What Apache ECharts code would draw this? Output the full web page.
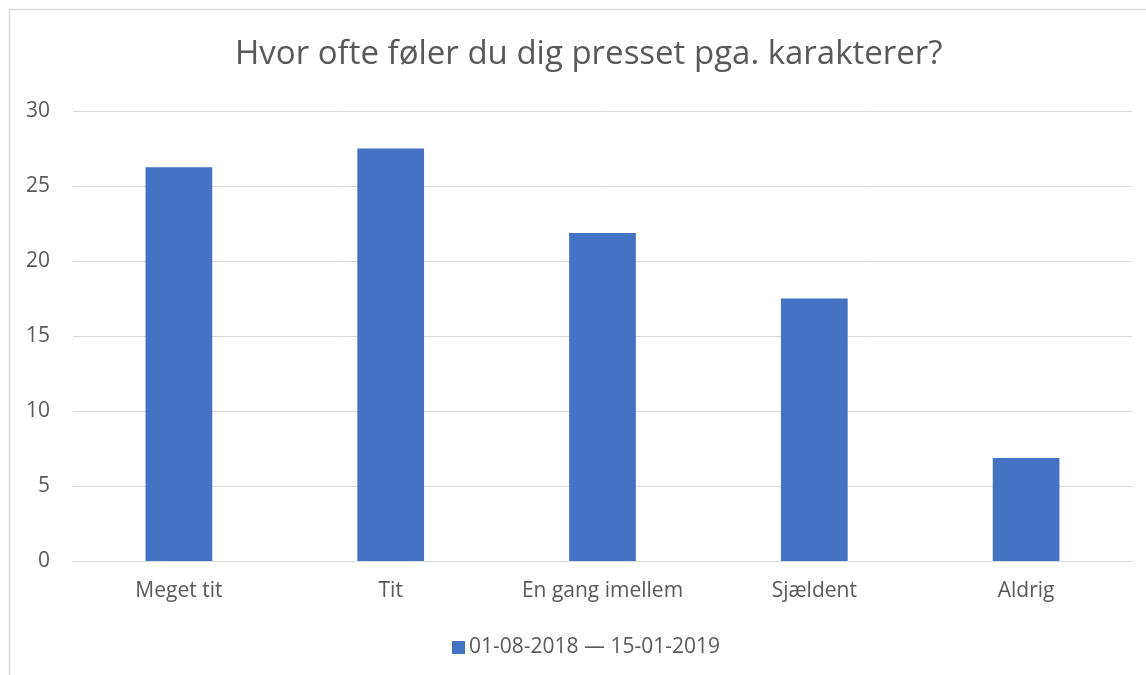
<!DOCTYPE html>
<html>
<head>
<meta charset="utf-8">
<script src="https://cdn.jsdelivr.net/npm/echarts@6/dist/echarts.min.js"></script>
<style>
  html, body { margin: 0; padding: 0; background: #ffffff; }
  #chart { width: 1146px; height: 675px; }
</style>
</head>
<body>
<div id="chart"></div>
<script>
// Survey answers: share of respondents per frequency option
const titleText = 'Hvor ofte føler du dig presset pga. karakterer?';
const categories = ['Meget tit', 'Tit', 'En gang imellem', 'Sjældent', 'Aldrig'];
const seriesName = '01-08-2018 — 15-01-2019';
const values = [26.25, 27.5, 21.875, 17.5, 6.875];
const yTicks = [0, 5, 10, 15, 20, 25, 30];

const textColor = '#595959';
const fontFamily = '"Open Sans", sans-serif';

const chart = echarts.init(document.getElementById('chart'), null, { renderer: 'canvas' });
chart.setOption({
  backgroundColor: '#ffffff',
  animation: false,
  textStyle: { fontFamily: fontFamily },
  graphic: [{
    type: 'rect',
    shape: { x: 9.5, y: 9.5, width: 1160, height: 700 },
    style: { fill: 'none', stroke: '#d9d9d9', lineWidth: 1.5 },
    silent: true
  }],
  title: {
    text: titleText,
    left: 235,
    top: 38,
    padding: 0,
    textStyle: { color: textColor, fontSize: 33, fontWeight: 'normal', fontFamily: fontFamily }
  },
  legend: {
    bottom: 12,
    left: 447,
    itemWidth: 13,
    itemHeight: 13,
    itemGap: 6,
    icon: 'rect',
    textStyle: { color: textColor, fontSize: 21, fontFamily: fontFamily, padding: [0, 0, 0, -1] },
    data: [seriesName]
  },
  grid: { left: 73, right: 14, top: 111, bottom: 114, containLabel: false },
  xAxis: {
    type: 'category',
    data: categories,
    axisLine: { show: true, lineStyle: { color: '#d9d9d9', width: 1 } },
    axisTick: { show: false },
    axisLabel: { color: textColor, fontSize: 21, margin: 20, fontFamily: fontFamily }
  },
  yAxis: {
    type: 'value',
    min: yTicks[0],
    max: yTicks[yTicks.length - 1],
    interval: yTicks[1] - yTicks[0],
    axisLine: { show: false },
    axisTick: { show: false },
    splitLine: { lineStyle: { color: '#d9d9d9', width: 1 } },
    axisLabel: { color: textColor, fontSize: 21, margin: 23, fontFamily: fontFamily }
  },
  series: [{
    name: seriesName,
    type: 'bar',
    data: values,
    barWidth: '31.5%',
    itemStyle: { color: '#4472c4' }
  }]
});
</script>
</body>
</html>
